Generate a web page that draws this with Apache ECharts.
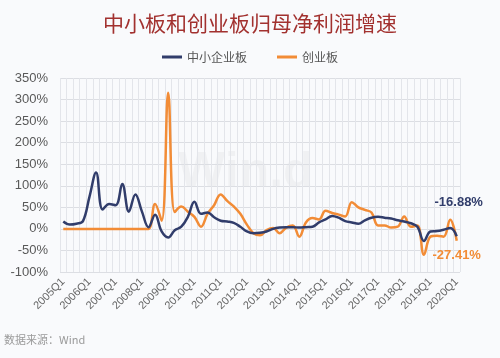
<!DOCTYPE html>
<html><head><meta charset="utf-8">
<script src="https://cdn.jsdelivr.net/npm/echarts@6/dist/echarts.min.js"></script>
<style>html,body{margin:0;padding:0;background:#f9fafc}#c{width:500px;height:358px}</style>
</head><body><div id="c"></div>
<script>
const categories = [];
for (let y = 2005; y <= 2020; y++) { for (let q = 1; q <= 4; q++) { if (y === 2020 && q > 1) break; categories.push(y + 'Q' + q); } }
const smeBoard = [17,10,12,18,75,131,45,58,55,104,40,80,40,4,33,-6,-20,-3,5,28,63,35,38,27,19,17,14,5,-6,-10,-9,-6,0,3,4,4,3,4,5,15,22,30,26,18,15,12,20,26,28,26,24,20,17,13,5,-28,-6,-5,-2,2,-16.88];
const chiNext = [0,0,0,0,0,0,0,0,0,0,0,0,0,0,58,19,316,39,52,40,28,5,35,55,80,65,52,35,10,-10,-15,-3,2,-10,3,8,-18,15,25,22,42,37,33,29,62,50,44,38,8,8,3,5,29,5,8,-60,-18,-16,-18,21,-27.41];
const seriesNames = ['中小企业板','创业板'];
const colors = ['#313d6b','#f28c36'];

function withEndLabel(arr, color, pos, offset) {
  const d = arr.slice(0, -1);
  const last = arr[arr.length - 1];
  d.push({ value: last, label: { show: true, position: pos, offset: offset, formatter: last.toFixed(2) + '%', color: color, fontWeight: 'bold', fontSize: 13, fontFamily: 'Arial, Liberation Sans, sans-serif' } });
  return d;
}

const chart = echarts.init(document.getElementById('c'), null, {renderer: 'canvas'});
chart.setOption({
  backgroundColor: '#f9fafc',
  animation: false,
  title: { text: '中小板和创业板归母净利润增速', left: 'center', top: 8,
    textStyle: { color: '#a2312f', fontSize: 21, fontWeight: 'normal', fontFamily: 'Noto Sans CJK SC' } },
  legend: { top: 46, left: 'center', itemGap: 30, itemWidth: 20, itemHeight: 3, icon: 'rect',
    data: seriesNames, textStyle: { color: '#555', fontSize: 12, fontFamily: 'Noto Sans CJK SC' } },
  grid: { left: 60, right: 40, top: 78, bottom: 86 },
  graphic: [
    { type: 'text', left: 178, top: 148, silent: true, z: 0,
      style: { text: 'Win.d', font: 'bold 50px Arial', fill: 'rgba(0,0,0,0.035)' } },
    { type: 'text', left: 4, top: 334,
      style: { text: '数据来源：Wind', font: '11px "Noto Sans CJK SC"', fill: '#9a9a9a' } }
  ],
  xAxis: { type: 'category', data: categories, boundaryGap: true,
    axisLine: { show: false }, axisTick: { show: false },
    axisLabel: { interval: 3, rotate: 45, color: '#666', fontSize: 11, fontFamily: 'Arial, Liberation Sans' },
    splitLine: { show: true, interval: 0, lineStyle: { color: '#e3e5ea', width: 1 } } },
  yAxis: { type: 'value', min: -100, max: 350, interval: 50,
    axisLine: { show: false }, axisTick: { show: false },
    axisLabel: { formatter: '{value}%', color: '#595959', fontSize: 13, margin: 12, fontFamily: 'Arial, Liberation Sans' },
    splitLine: { lineStyle: { color: '#dcdee3' } } },
  series: [
    { name: seriesNames[0], type: 'line', smooth: 0.4, showSymbol: true, symbol: 'circle', symbolSize: 0, z: 3,
      lineStyle: { color: colors[0], width: 2.5 }, itemStyle: { color: colors[0] },
      data: withEndLabel(smeBoard, colors[0], 'top', [2, -22]) },
    { name: seriesNames[1], type: 'line', smooth: 0.4, showSymbol: true, symbol: 'circle', symbolSize: 0, z: 2,
      lineStyle: { color: colors[1], width: 2.5 }, itemStyle: { color: colors[1] },
      data: withEndLabel(chiNext, colors[1], 'bottom', [0, 3]) }
  ]
});
</script></body></html>
